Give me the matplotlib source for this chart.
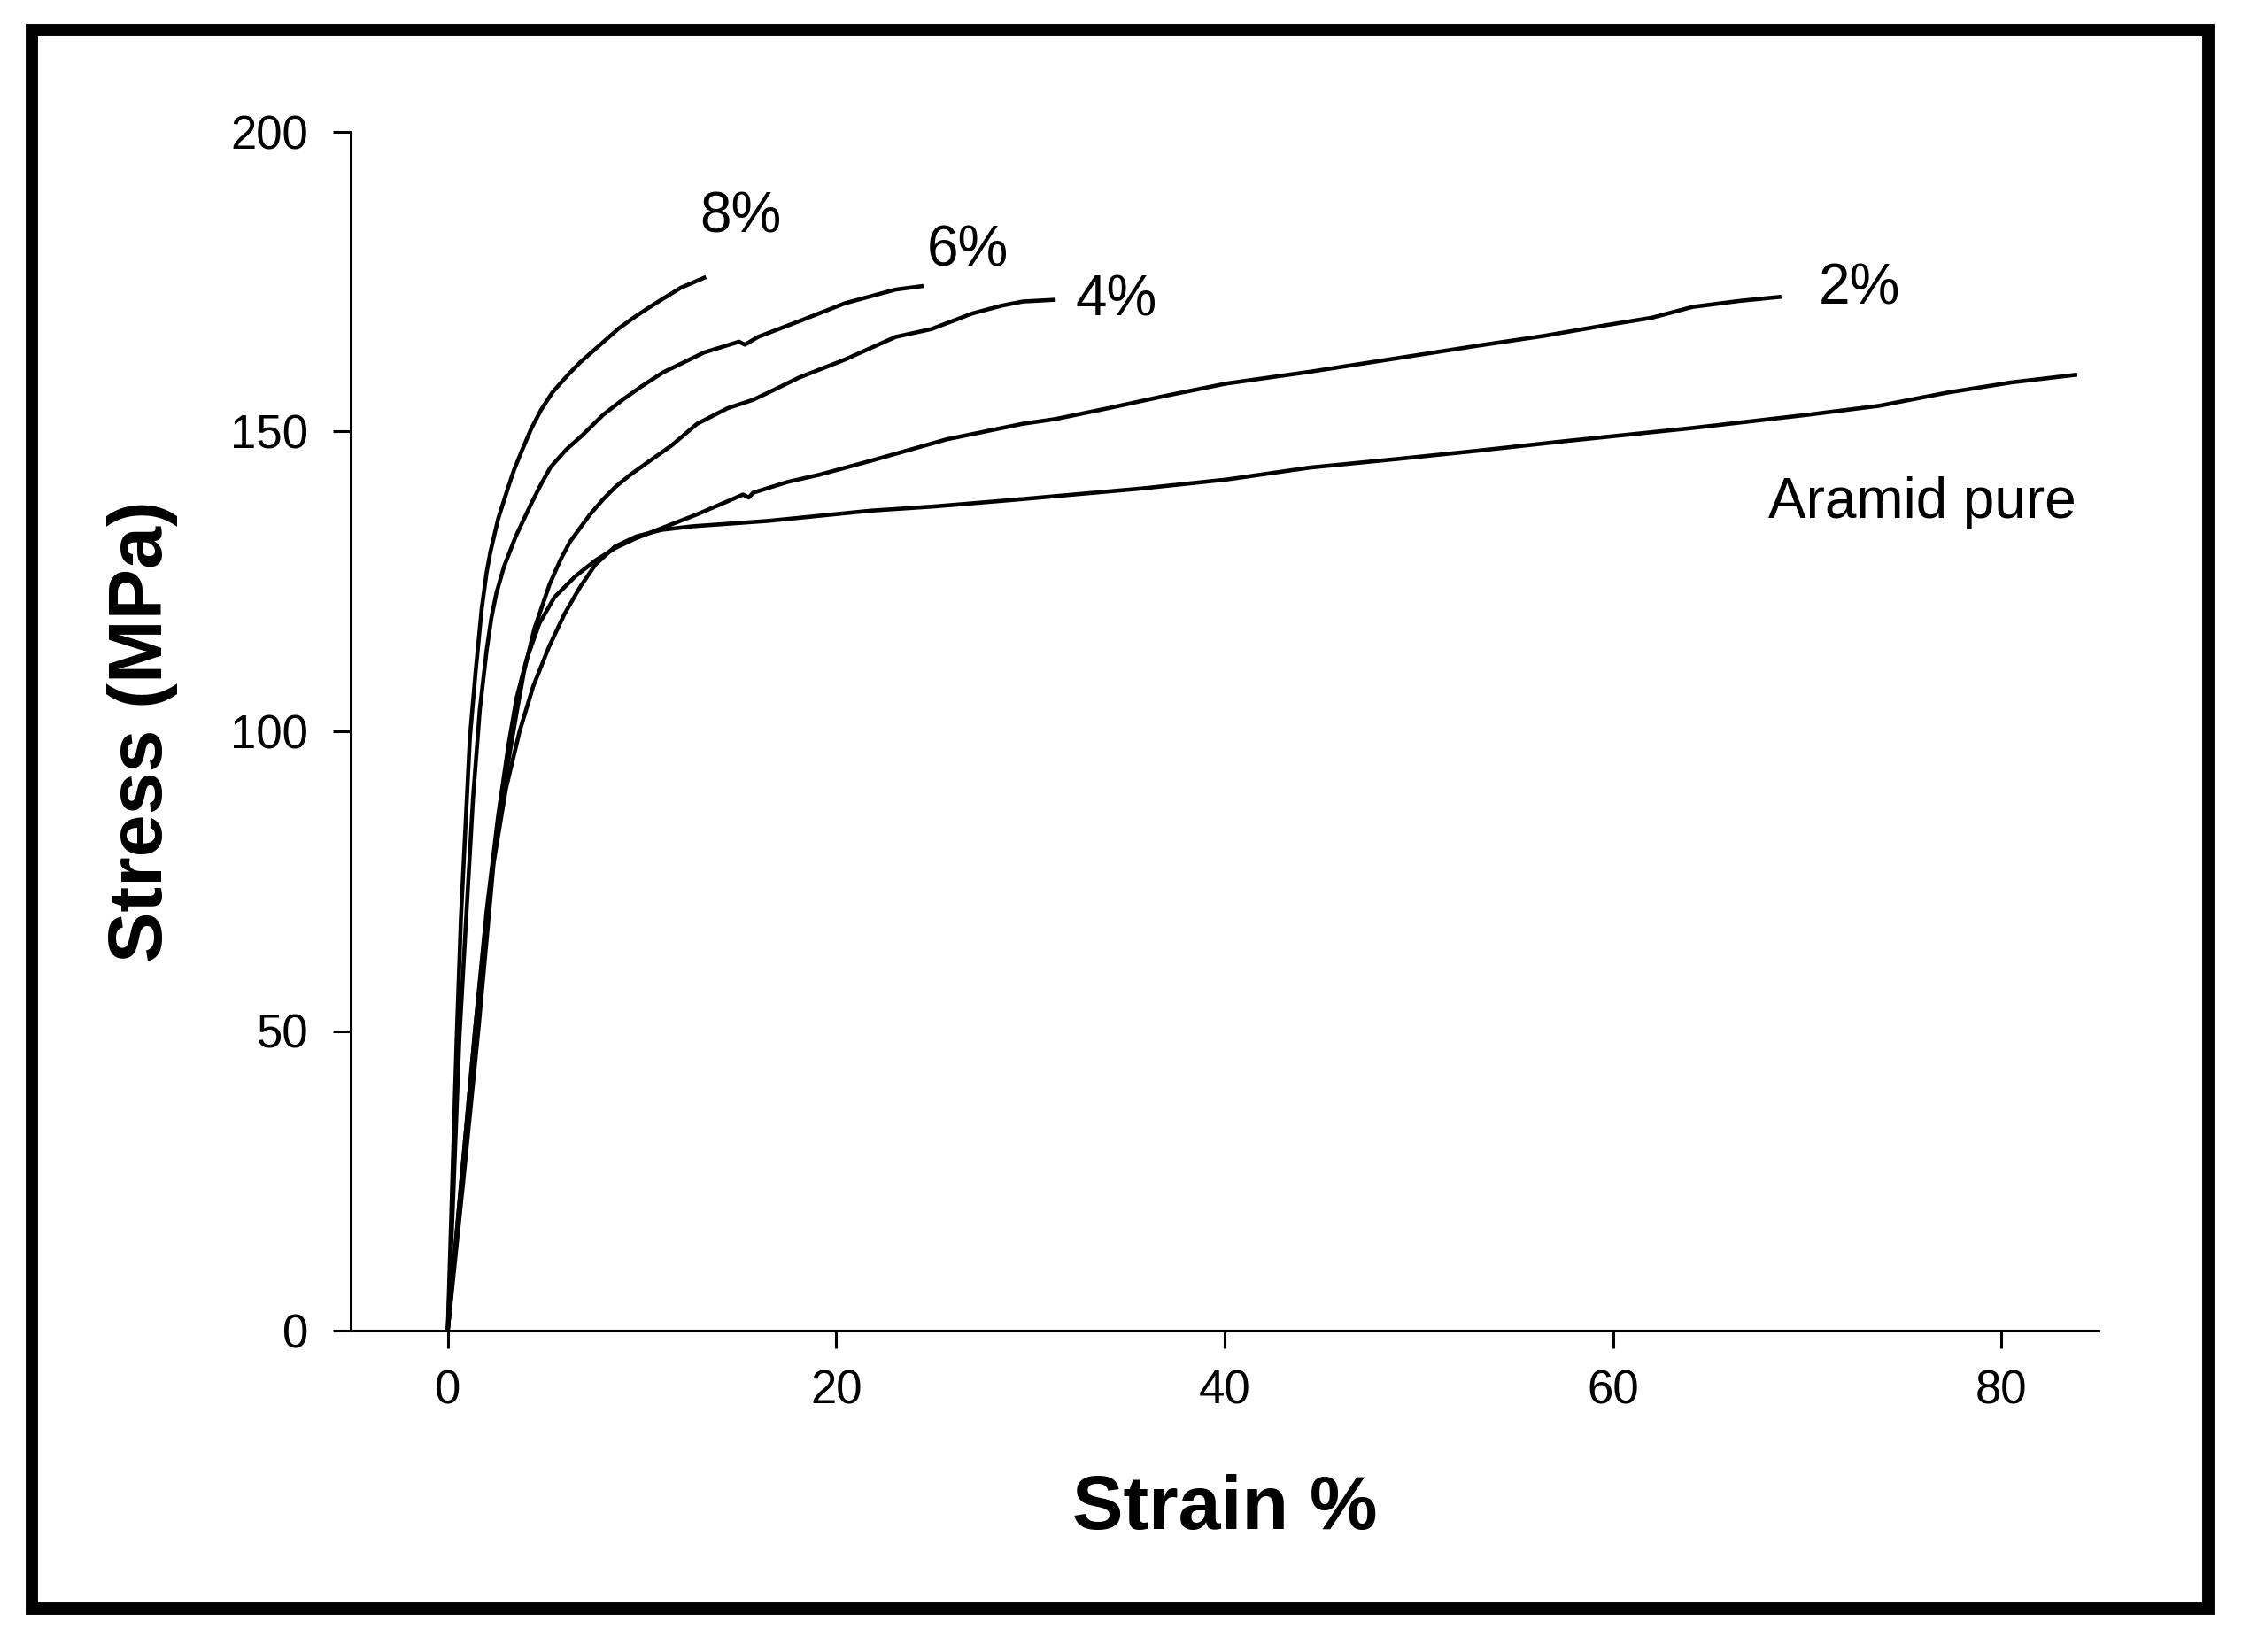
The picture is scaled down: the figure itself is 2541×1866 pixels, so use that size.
import numpy as np
import matplotlib.pyplot as plt
from matplotlib.patches import Rectangle

plt.rcParams['font.family'] = ['Liberation Sans', 'DejaVu Sans']

# stress-strain curves (strain %, stress MPa)
pure_x = [0, 0.8, 1.6, 2.36, 3.0, 3.7, 4.4, 5.2, 6.0, 6.8, 7.6, 8.6, 9.7, 11.0,
          12.6, 16.5, 21.75, 25.0, 29.1, 35.7, 40.1, 44.4, 48.8, 53.0, 57.5,
          64.1, 70.0, 73.7, 77.2, 80.5, 83.9]
pure_y = [0, 25, 51, 78, 90.5, 100, 107.5, 114, 119.5, 124, 127.8, 130.8, 132.5, 133.6,
          134.2, 135.1, 136.8, 137.5, 138.6, 140.5, 142.0, 144.0, 145.4, 146.8, 148.4,
          150.6, 152.8, 154.3, 156.5, 158.2, 159.5]

c2_x = [0, 0.7, 1.4, 2.0, 2.6, 3.14, 3.54, 4.06, 4.72, 5.5, 6.55, 7.6, 8.64, 9.69,
        11.26, 12.84, 14.5, 15.2, 15.5, 15.72, 17.5, 19.13, 21.75, 25.68, 29.6,
        31.3, 34.0, 37.0, 40.06, 44.43, 48.8, 53.17, 56.5, 59.72, 62.0, 64.09,
        66.5, 68.67]
c2_y = [0, 25, 50, 70, 86, 98, 105.5, 112, 118, 122.4, 125.8, 128.5, 130.6, 132.2,
        134.2, 136.2, 138.5, 139.5, 139.0, 139.8, 141.6, 142.8, 145.1, 148.7, 151.3,
        152.1, 153.9, 156.0, 158.0, 160.0, 162.2, 164.4, 166.0, 167.8, 169.0, 170.8,
        171.8, 172.5]

c4_x = [0, 0.7, 1.4, 2.1, 2.8, 3.54, 3.93, 4.45, 5.24, 5.8, 6.29, 7.33, 8.0, 8.64,
        9.4, 10.22, 11.53, 12.84, 14.41, 15.72, 16.5, 18.08, 20.44, 23.06, 24.9,
        27.0, 28.5, 29.6, 31.3]
c4_y = [0, 25, 50, 72, 89, 103, 110, 117, 124.5, 128.6, 131.6, 136.2, 138.7, 140.8,
        142.8, 144.7, 147.7, 151.3, 153.9, 155.3, 156.5, 159.0, 162.0, 165.8, 167.1,
        169.7, 171.0, 171.7, 172.0]

c6_x = [0, 0.3, 0.6, 0.95, 1.3, 1.65, 2.0, 2.25, 2.5, 2.9, 3.5, 4.3, 4.8, 5.3, 6.1,
        6.9, 8.0, 9.0, 10.0, 11.1, 13.2, 15.0, 15.3, 15.98, 18.08, 20.44, 23.06, 24.5]
c6_y = [0, 24, 49, 69, 88.8, 103.6, 113.5, 119, 123, 127.5, 132.5, 138.0, 141.2, 144.1,
        147.0, 149.3, 152.8, 155.3, 157.6, 159.9, 163.2, 165.0, 164.5, 165.8, 168.4,
        171.4, 173.7, 174.3]

c8_x = [0, 0.46, 0.68, 0.91, 1.14, 1.45, 1.75, 2.0, 2.2, 2.6, 3.1, 3.4, 3.8, 4.3,
        4.8, 5.4, 6.2, 6.8, 7.5, 8.8, 9.7, 10.7, 12.0, 13.3]
c8_y = [0, 49, 69, 84, 99, 110.5, 120.5, 126.5, 130, 135.5, 140.6, 143.5, 146.7, 150.5,
        153.6, 156.6, 159.5, 161.5, 163.5, 167.2, 169.3, 171.4, 174.0, 175.8]

labels = ['8%', '6%', '4%', '2%', 'Aramid pure']
label_x = [15.1, 26.75, 34.4, 72.7, 75.9]
label_y = [183.2, 177.6, 169.3, 171.3, 135.6]

x_ticks = [0, 20, 40, 60, 80]
y_ticks = [0, 50, 100, 150, 200]

W, H = 2541, 1866
fig = plt.figure(figsize=(W / 100, H / 100), dpi=100)

# outer frame
fig.patches.append(Rectangle((36 / W, 1 - 1817 / H), (2494 - 36) / W, (1817 - 34) / H,
                             transform=fig.transFigure, fill=False, lw=10,
                             edgecolor='black', joinstyle='miter'))

ax = fig.add_axes([396 / W, 1 - 1503 / H, (2370 - 396) / W, (1503 - 149) / H])

for xs, ys in [(pure_x, pure_y), (c2_x, c2_y), (c4_x, c4_y), (c6_x, c6_y), (c8_x, c8_y)]:
    ax.plot(xs, ys, color='black', lw=3.3, clip_on=False,
            solid_joinstyle='round', solid_capstyle='butt')

for t, lx, ly in zip(labels, label_x, label_y):
    ax.text(lx, ly, t, fontsize=46, ha='center', va='baseline')

ax.set_xlim(-5, 85)
ax.set_ylim(0, 200)
ax.set_xticks(x_ticks)
ax.set_yticks(y_ticks)
ax.spines['top'].set_visible(False)
ax.spines['right'].set_visible(False)
for s in ['left', 'bottom']:
    ax.spines[s].set_linewidth(2.2)
ax.tick_params(direction='out', length=14.5, width=2.2, labelsize=38)
ax.tick_params(axis='x', pad=17)
ax.tick_params(axis='y', pad=20)

ax.set_xlabel('Strain %', fontsize=62, fontweight='bold', va='center')
ax.xaxis.set_label_coords(0.5, -0.149)
ax.set_ylabel('Stress (MPa)', fontsize=62, fontweight='bold', va='center')
ax.yaxis.set_label_coords(-0.119, 0.5)

fig.savefig('out.png', dpi=100)
